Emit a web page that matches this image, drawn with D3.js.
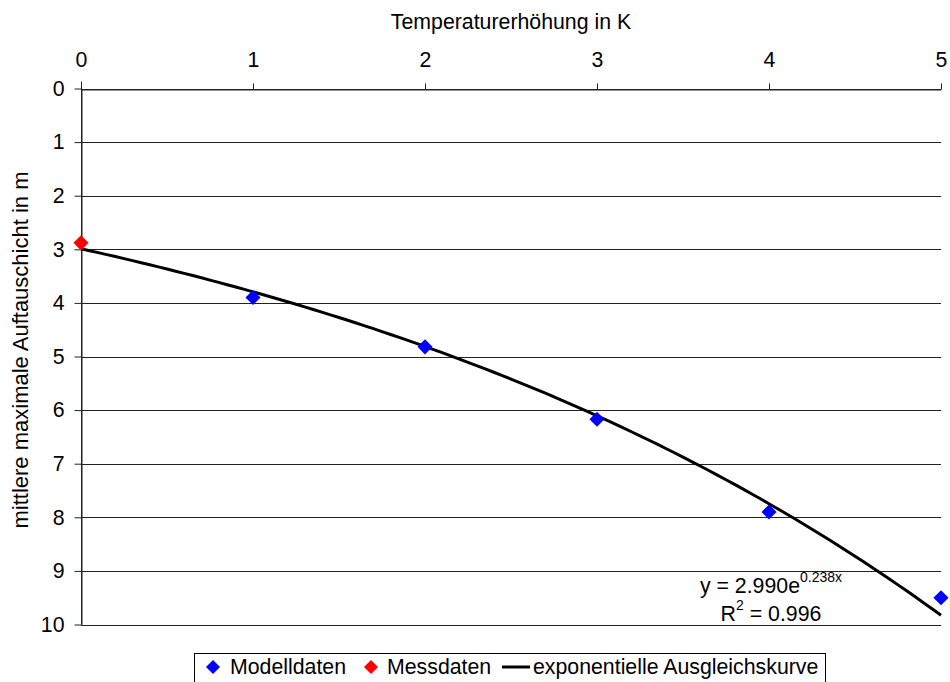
<!DOCTYPE html>
<html>
<head>
<meta charset="utf-8">
<script src="https://cdn.jsdelivr.net/npm/d3@7"></script>
<style>
  html, body { margin: 0; padding: 0; background: #fff; }
  svg { display: block; font-family: "Liberation Sans", Arial, Helvetica, sans-serif; }
</style>
</head>
<body>
<svg id="chart" width="950" height="682"></svg>
<script>
// Temperature increase (K) and mean maximum thaw depth (m)
const modelX = [1, 2, 3, 4, 5];
const modelY = [3.9, 4.82, 6.17, 7.9, 9.5];
const measuredX = [0];
const measuredY = [2.88];
const xTicks = [0, 1, 2, 3, 4, 5];
const yTicks = [0, 1, 2, 3, 4, 5, 6, 7, 8, 9, 10];
// exponential fit y = a * e^(b x)
const fitA = [2.990];
const fitB = [0.238];
const fitR2 = [0.996];
const legendLabels = ["Modelldaten", "Messdaten", "exponentielle Ausgleichskurve"];

const FS = 21.3;
const svg = d3.select("#chart");
const plotLeft = 81, plotRight = 941, plotTop = 88.5, plotBottom = 624.5;

const x = d3.scaleLinear().domain([0, 5]).range([plotLeft, plotRight]);
const y = d3.scaleLinear().domain([0, 10]).range([plotTop, plotBottom]);

// horizontal gridlines
svg.append("g")
  .selectAll("line")
  .data(yTicks)
  .join("line")
  .attr("x1", plotLeft).attr("x2", plotRight)
  .attr("y1", d => Math.round(y(d)) + 0.5).attr("y2", d => Math.round(y(d)) + 0.5)
  .attr("stroke", "#222").attr("stroke-width", 1);

// top x axis
const xAxis = svg.append("g")
  .attr("transform", `translate(0,${Math.round(plotTop) + 0.5})`)
  .call(d3.axisTop(x).tickValues(xTicks).tickFormat(d3.format("d")).tickSize(6).tickSizeOuter(0).tickPadding(17));
xAxis.select(".domain").attr("stroke", "#222");
xAxis.selectAll(".tick line").attr("stroke", "#222");
xAxis.selectAll("text").attr("font-size", FS).attr("fill", "#000")
  .attr("font-family", "Liberation Sans, Arial, sans-serif");

// left y axis
const yAxis = svg.append("g")
  .attr("transform", `translate(${Math.round(plotLeft) + 0.5},0)`)
  .call(d3.axisLeft(y).tickValues(yTicks).tickFormat(d3.format("d")).tickSize(7).tickSizeOuter(0).tickPadding(10));
yAxis.select(".domain").attr("stroke", "#222");
yAxis.selectAll(".tick line").attr("stroke", "#222");
yAxis.selectAll("text").attr("font-size", FS).attr("fill", "#000")
  .attr("font-family", "Liberation Sans, Arial, sans-serif");
// axis line extends slightly above the first gridline
svg.append("line")
  .attr("x1", Math.round(plotLeft) + 0.5).attr("x2", Math.round(plotLeft) + 0.5)
  .attr("y1", plotTop - 7).attr("y2", plotBottom)
  .attr("stroke", "#222");

// axis titles
svg.append("text")
  .attr("x", 511).attr("y", 29)
  .attr("text-anchor", "middle").attr("font-size", FS)
  .text("Temperaturerhöhung in K");
svg.append("text")
  .attr("transform", "translate(28,350) rotate(-90)")
  .attr("text-anchor", "middle").attr("font-size", 22)
  .text("mittlere maximale Auftauschicht in m");

// fitted exponential curve
const fitXs = d3.range(0, 5.0001, 0.05);
const line = d3.line().x(d => x(d)).y(d => y(fitA[0] * Math.exp(fitB[0] * d)));
svg.append("path")
  .datum(fitXs)
  .attr("d", line)
  .attr("fill", "none").attr("stroke", "#000").attr("stroke-width", 3);

// diamond markers
const diamond = d3.symbol().type(d3.symbolDiamond2).size(145);
svg.append("g").selectAll("path")
  .data(modelX.map((d, i) => [d, modelY[i]]))
  .join("path")
  .attr("transform", d => `translate(${x(d[0])},${y(d[1])})`)
  .attr("d", diamond)
  .attr("fill", "#0000ff");
svg.append("g").selectAll("path")
  .data(measuredX.map((d, i) => [d, measuredY[i]]))
  .join("path")
  .attr("transform", d => `translate(${x(d[0])},${y(d[1])})`)
  .attr("d", diamond)
  .attr("fill", "#ff0000");

// equation and R² label
const eq = svg.append("text")
  .attr("x", 771).attr("y", 593).attr("text-anchor", "middle").attr("font-size", FS);
eq.append("tspan").text(`y = ${fitA[0].toFixed(3)}e`);
eq.append("tspan").attr("font-size", 14).attr("dy", -11).text(`${fitB[0].toFixed(3)}x`);
const r2 = svg.append("text")
  .attr("x", 771).attr("y", 621).attr("text-anchor", "middle").attr("font-size", FS);
r2.append("tspan").text("R");
r2.append("tspan").attr("font-size", 14).attr("dy", -11).text("2");
r2.append("tspan").attr("dy", 11).text(` = ${fitR2[0].toFixed(3)}`);

// legend
const lg = svg.append("g");
lg.append("rect")
  .attr("x", 194.5).attr("y", 653.5).attr("width", 631).attr("height", 34)
  .attr("fill", "#fff").attr("stroke", "#000").attr("stroke-width", 1);
const legendY = 667;
const sym = d3.symbol().type(d3.symbolDiamond2).size(125);
lg.append("path").attr("transform", `translate(213,${legendY})`).attr("d", sym).attr("fill", "#0000ff");
lg.append("text").attr("x", 230).attr("y", legendY + 7).attr("font-size", FS).text(legendLabels[0]);
lg.append("path").attr("transform", `translate(371,${legendY})`).attr("d", sym).attr("fill", "#ff0000");
lg.append("text").attr("x", 387).attr("y", legendY + 7).attr("font-size", FS).text(legendLabels[1]);
lg.append("line").attr("x1", 502).attr("x2", 530).attr("y1", legendY).attr("y2", legendY)
  .attr("stroke", "#000").attr("stroke-width", 3);
lg.append("text").attr("x", 533).attr("y", legendY + 7).attr("font-size", FS).text(legendLabels[2]);
</script>
</body>
</html>
